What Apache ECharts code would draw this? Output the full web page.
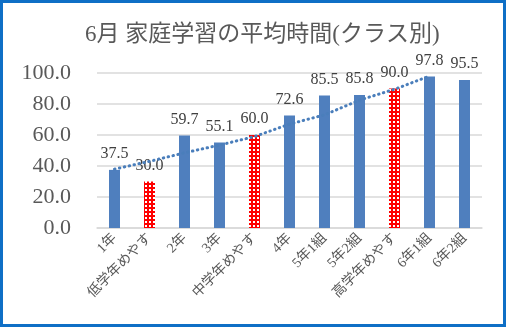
<!DOCTYPE html>
<html><head><meta charset="utf-8">
<script src="https://cdn.jsdelivr.net/npm/echarts@6/dist/echarts.min.js"></script>
<style>
html,body{margin:0;padding:0;background:#fff;}
#wrap{position:absolute;left:0;top:0;width:500px;height:321px;border:3px solid #0f6fc6;background:#fff;}
#c{position:absolute;left:-3px;top:-3px;width:506px;height:327px;}
</style></head>
<body><div id="wrap"><div id="c"></div></div>
<script>
const titleText = '6月 家庭学習の平均時間(クラス別)';
const categories = ['1年','低学年めやす','2年','3年','中学年めやす','4年','5年1組','5年2組','高学年めやす','6年1組','6年2組'];
const values = [37.5, 30.0, 59.7, 55.1, 60.0, 72.6, 85.5, 85.8, 90.0, 97.8, 95.5];
const isGuide = [false, true, false, false, true, false, false, false, true, false, false];
const trendValues = [38, 43, 48.5, 53.5, 59, 67, 73, 82.5, 89.5, 98, null];
const yMin = 0, yMax = 100, yInterval = 20;

const serif = "'Liberation Serif','DejaVu Serif','Noto Sans CJK JP'";

const pc = document.createElement('canvas');
pc.width = 4; pc.height = 4;
const g = pc.getContext('2d');
g.fillStyle = '#ff0000'; g.fillRect(0,0,4,4);
g.fillStyle = '#ffffff';
g.fillRect(1,1,2,2);

const chart = echarts.init(document.getElementById('c'));
chart.setOption({
  animation:false,
  backgroundColor:'transparent',
  title:{text:titleText,left:80,top:18,
    textStyle:{fontFamily:serif,fontSize:23,fontWeight:'normal',color:'#595959'}},
  grid:{left:97,right:24,top:73,bottom:99},
  xAxis:{type:'category',data:categories,
    axisLine:{show:true,lineStyle:{color:'#d9d9d9',width:1.5}},
    axisTick:{show:false},
    axisLabel:{rotate:45,interval:0,margin:8,fontFamily:serif,fontSize:14,color:'#595959'}},
  yAxis:{type:'value',min:yMin,max:yMax,interval:yInterval,
    axisLine:{show:false},axisTick:{show:false},
    splitLine:{lineStyle:{color:'#d9d9d9',width:1.5}},
    axisLabel:{formatter:v=>v.toFixed(1),fontFamily:serif,fontSize:22,color:'#595959',margin:26}},
  series:[
    {type:'bar',barWidth:11,
     data:values.map((v,i)=>({value:v,itemStyle:{color:isGuide[i]?{image:pc,repeat:'repeat'}:'#4f7fbe'}})),
     label:{show:true,position:'top',distance:8,formatter:p=>p.value.toFixed(1),
       fontFamily:serif,fontSize:16,color:'#404040'}},
    {type:'line',data:trendValues,symbol:'none',z:5,
     lineStyle:{color:'#4a7ebb',width:3,type:[0.5,4.5],cap:'round'}}
  ]
});
</script></body></html>
